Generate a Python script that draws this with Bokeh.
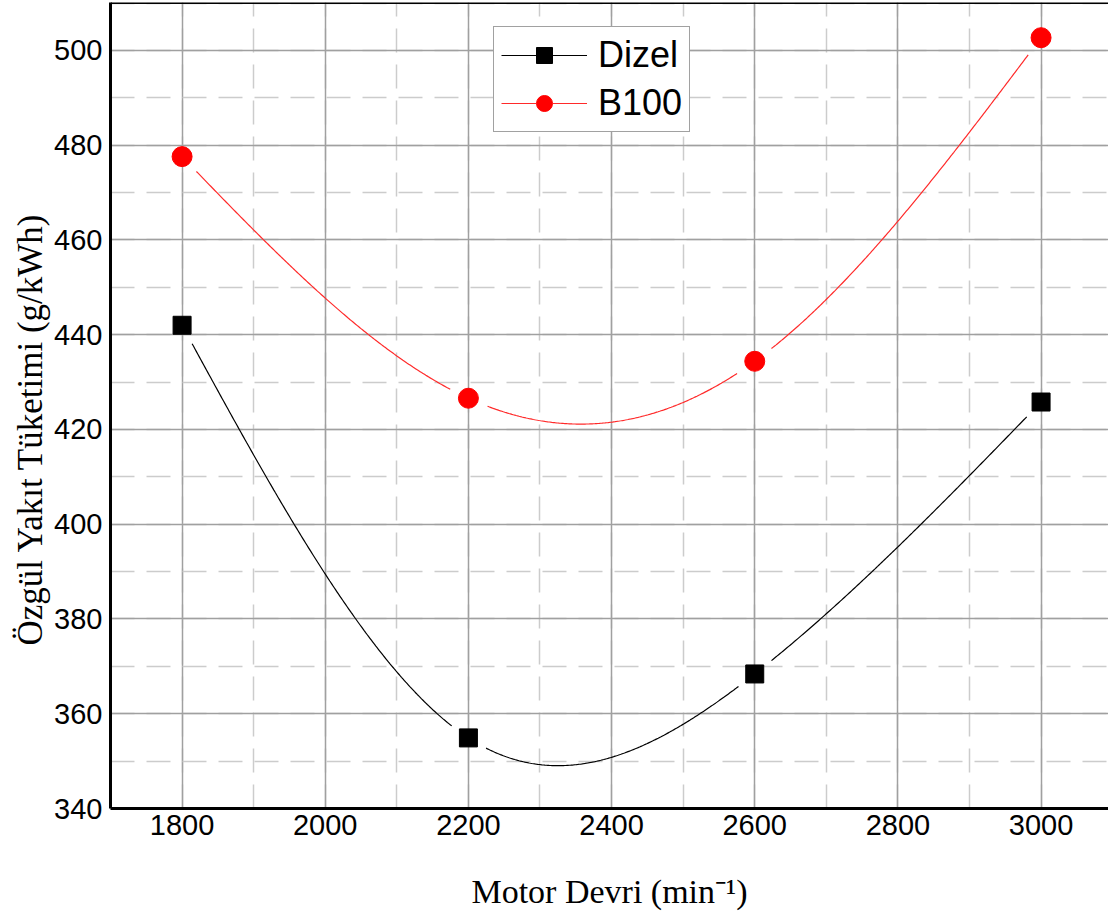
import numpy as np
from bokeh.plotting import figure
from bokeh.models import (Range1d, SingleIntervalTicker, Legend, LegendItem,
                          Span, Title)
from bokeh.embed import file_html
from bokeh.resources import INLINE

# ---- data ----
rpm = [1800, 2200, 2600, 3000]
dizel = [442.0, 354.9, 368.4, 425.8]
b100 = [477.6, 426.6, 434.4, 502.7]
series_names = ["Dizel", "B100"]
x_title = "Motor Devri (min\u207b\u00b9)"
y_title = "Özgül Yakıt Tüketimi (g/kWh)"

# ---- layout ----
W, H = 1108, 912
BL, BR, BT, BB = 110, 0, 2, 104
FW, FH = W - BL - BR, H - BT - BB
X0, X1 = 1700.0, 3094.2
Y0, Y1 = 340.0, 510.13


def natural_spline(xs, ys, n=600):
    xs = np.asarray(xs, float)
    ys = np.asarray(ys, float)
    k = len(xs)
    h = np.diff(xs)
    A = np.zeros((k, k))
    r = np.zeros(k)
    A[0, 0] = A[-1, -1] = 1.0
    for i in range(1, k - 1):
        A[i, i - 1] = h[i - 1]
        A[i, i] = 2 * (h[i - 1] + h[i])
        A[i, i + 1] = h[i]
        r[i] = 6 * ((ys[i + 1] - ys[i]) / h[i] - (ys[i] - ys[i - 1]) / h[i - 1])
    M = np.linalg.solve(A, r)
    xx = np.linspace(xs[0], xs[-1], n)
    yy = np.empty_like(xx)
    for j, xv in enumerate(xx):
        i = min(np.searchsorted(xs, xv, side="right") - 1, k - 2)
        hi = h[i]
        a = (xs[i + 1] - xv) / hi
        b = (xv - xs[i]) / hi
        yy[j] = (a * ys[i] + b * ys[i + 1]
                 + ((a ** 3 - a) * M[i] + (b ** 3 - b) * M[i + 1]) * hi ** 2 / 6)
    return xx, yy


def gapped(xs, ys, gap_px=20.0):
    xx, yy = natural_spline(xs, ys)
    sx = FW / (X1 - X0)
    sy = FH / (Y1 - Y0)
    d = np.full(xx.shape, np.inf)
    for px, py in zip(xs, ys):
        d = np.minimum(d, np.hypot((xx - px) * sx, (yy - py) * sy))
    yy = yy.copy()
    yy[d < gap_px] = np.nan
    return xx, yy


p = figure(width=W, height=H, output_backend="svg", toolbar_location=None,
           x_range=Range1d(X0, X1), y_range=Range1d(Y0, Y1),
           min_border_left=BL, min_border_right=BR,
           min_border_top=BT, min_border_bottom=BB)
p.outline_line_color = None
p.background_fill_color = "white"

xt = SingleIntervalTicker(interval=200, num_minor_ticks=2)
yt = SingleIntervalTicker(interval=20, num_minor_ticks=2)
p.xaxis.ticker = xt
p.yaxis.ticker = yt
p.xgrid.ticker = xt
p.ygrid.ticker = yt

for ax in (p.xaxis, p.yaxis):
    ax.axis_line_width = 3
    ax.axis_line_color = "black"
    ax.major_tick_line_color = None
    ax.minor_tick_line_color = None
    ax.major_label_text_font = "Liberation Sans"
    ax.major_label_text_font_size = "29px"
    ax.major_label_text_color = "black"
p.xaxis.major_label_standoff = 0
p.yaxis.major_label_standoff = 2

p.xaxis.axis_label = x_title
p.xaxis.axis_label_text_font = "Liberation Serif"
p.xaxis.axis_label_text_font_size = "34px"
p.xaxis.axis_label_text_font_style = "normal"
p.xaxis.axis_label_text_color = "black"
p.xaxis.axis_label_standoff = 35

p.add_layout(Title(text=y_title, text_font="Liberation Serif", text_font_size="35px",
                   text_font_style="normal", text_color="black", align="left",
                   offset=163, standoff=4), "left")

for g in (p.xgrid, p.ygrid):
    g.grid_line_color = "#a0a0a0"
    g.grid_line_width = 1.5
    g.minor_grid_line_color = "#cccccc"
    g.minor_grid_line_width = 1.5
    g.minor_grid_line_dash = "24 12"

p.add_layout(Span(location=Y1, dimension="width", line_color="black", line_width=3))

# curves
dx, dy = gapped(rpm, dizel)
bx, by = gapped(rpm, b100)
l_d = p.line(dx, dy, line_color="black", line_width=1.2)
l_b = p.line(bx, by, line_color="#ff2a2a", line_width=1.2)
m_d = p.scatter(rpm, dizel, marker="square", size=18, fill_color="black", line_color="black")
m_b = p.scatter(rpm, b100, marker="circle", size=20, fill_color="red", line_color="red")

# off-range white masks used only for the legend glyph look
mask_d = p.scatter([-1000], [-1000], marker="square", size=23, fill_color="white", line_color="white")
mask_b = p.scatter([-1000], [-1000], marker="circle", size=25, fill_color="white", line_color="white")

legend = Legend(items=[
    LegendItem(label=series_names[0], renderers=[l_d, mask_d, m_d]),
    LegendItem(label=series_names[1], renderers=[l_b, mask_b, m_b]),
], location=(383, 676))
legend.label_text_font = "Liberation Sans"
legend.label_text_font_size = "36px"
legend.label_text_color = "black"
legend.label_standoff = 11
legend.glyph_width = 86
legend.glyph_height = 40
legend.label_height = 40
legend.padding = 7
legend.spacing = 6
legend.border_line_color = "#444444"
legend.border_line_width = 1.5
legend.background_fill_alpha = 1
p.add_layout(legend)

open("out.html", "w").write(file_html(p, INLINE))
